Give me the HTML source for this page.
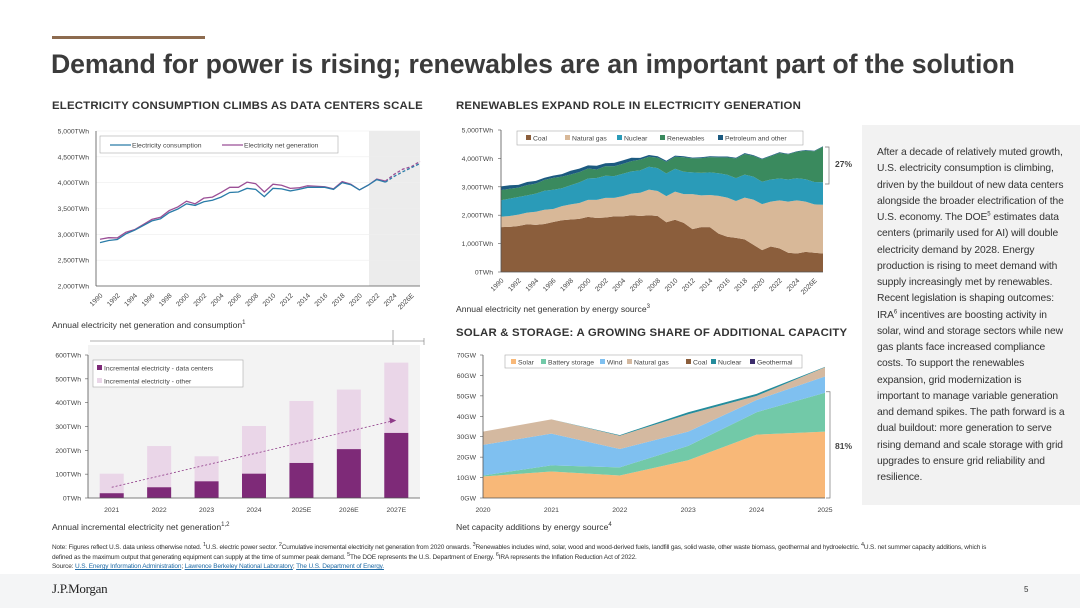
<!DOCTYPE html>
<html><head><meta charset="utf-8">
<style>
body{margin:0;width:1080px;height:608px;overflow:hidden;background:#fff;font-family:"Liberation Sans",sans-serif;color:#333;position:relative}
.abs{position:absolute}
.hdr{font-size:11.4px;font-weight:bold;color:#333;letter-spacing:0.2px;white-space:nowrap}
.cap{font-size:8.6px;color:#333;white-space:nowrap}
sup{line-height:0}
#side{left:862px;top:125px;width:218px;height:380px;background:#f2f2f2}
#side p{margin:0;position:absolute;left:15px;top:20px;width:188px;font-size:10.3px;line-height:16.25px;color:#333;letter-spacing:-0.1px}
svg text{font-family:"Liberation Sans",sans-serif}
</style></head><body>
<div class="abs" style="left:52px;top:36px;width:153px;height:3px;background:#8d6b4f"></div>
<div class="abs" style="left:51px;top:49px;font-size:26.7px;font-weight:bold;color:#3b3b3b;white-space:nowrap;letter-spacing:-0.1px">Demand for power is rising; renewables are an important part of the solution</div>
<div class="abs hdr" style="left:52px;top:100px">ELECTRICITY CONSUMPTION CLIMBS AS DATA CENTERS SCALE</div>
<div class="abs hdr" style="left:456px;top:100px">RENEWABLES EXPAND ROLE IN ELECTRICITY GENERATION</div>
<div class="abs hdr" style="left:456px;top:327px">SOLAR &amp; STORAGE: A GROWING SHARE OF ADDITIONAL CAPACITY</div>
<div class="abs cap" style="left:52px;top:320px">Annual electricity net generation and consumption<sup style="font-size:6px">1</sup></div>
<div class="abs cap" style="left:456px;top:304px">Annual electricity net generation by energy source<sup style="font-size:6px">3</sup></div>
<div class="abs cap" style="left:52px;top:522px">Annual incremental electricity net generation<sup style="font-size:6px">1,2</sup></div>
<div class="abs cap" style="left:456px;top:522px">Net capacity additions by energy source<sup style="font-size:6px">4</sup></div>
<div id="side" class="abs"><p>After a decade of relatively muted growth, U.S. electricity consumption is climbing, driven by the buildout of new data centers alongside the broader electrification of the U.S. economy. The DOE<sup style="font-size:6px">5</sup> estimates data centers (primarily used for AI) will double electricity demand by 2028. Energy production is rising to meet demand with supply increasingly met by renewables. Recent legislation is shaping outcomes: IRA<sup style="font-size:6px">6</sup> incentives are boosting activity in solar, wind and storage sectors while new gas plants face increased compliance costs. To support the renewables expansion, grid modernization is important to manage variable generation and demand spikes. The path forward is a dual buildout: more generation to serve rising demand and scale storage with grid upgrades to ensure grid reliability and resilience.</p></div>
<div class="abs" style="left:52px;top:543px;width:945px;font-size:6.5px;line-height:9.5px;color:#333;letter-spacing:-0.15px">Note: Figures reflect U.S. data unless otherwise noted. <sup>1</sup>U.S. electric power sector. <sup>2</sup>Cumulative incremental electricity net generation from 2020 onwards. <sup>3</sup>Renewables includes wind, solar, wood and wood-derived fuels, landfill gas, solid waste, other waste biomass, geothermal and hydroelectric. <sup>4</sup>U.S. net summer capacity additions, which is defined as the maximum output that generating equipment can supply at the time of summer peak demand. <sup>5</sup>The DOE represents the U.S. Department of Energy. <sup>6</sup>IRA represents the Inflation Reduction Act of 2022.<br>Source: <span style="color:#1f6aa5;text-decoration:underline">U.S. Energy Information Administration</span>; <span style="color:#1f6aa5;text-decoration:underline">Lawrence Berkeley National Laboratory</span>; <span style="color:#1f6aa5;text-decoration:underline">The U.S. Department of Energy.</span></div>
<div class="abs" style="left:0;top:574px;width:1080px;height:34px;background:#f4f5f6"></div>
<div class="abs" style="left:52px;top:581px;font-family:'Liberation Serif',serif;font-size:13px;color:#222;letter-spacing:-0.3px">J.P.Morgan</div>
<div class="abs" style="left:1024px;top:585px;font-size:8px">5</div>

<svg id="sv" class="abs" style="left:0;top:0" width="1080" height="608"></svg>
<script>
// Chart 1
const c1Years=[];for(let y=1990;y<=2027;y++)c1Years.push(y);
const c1Consumption=[2840,2880,2900,3010,3080,3170,3260,3300,3420,3490,3590,3560,3630,3660,3720,3810,3820,3890,3870,3730,3890,3880,3840,3870,3910,3910,3910,3870,4000,3960,3860,3950,4060,4010,4120,4210,4290,4370];
const c1Generation=[2905,2935,2930,3040,3090,3190,3290,3330,3460,3530,3640,3590,3700,3720,3810,3910,3910,4010,3980,3820,3970,3950,3890,3900,3940,3930,3920,3880,4020,3970,3860,3950,4070,4030,4160,4260,4310,4410];
const c1Ticks=[2000,2500,3000,3500,4000,4500,5000];
// Chart 2
const c2Coal=[1580,1590,1620,1680,1660,1690,1760,1820,1850,1870,1940,1900,1920,1960,1960,2000,1970,2000,1970,1750,1840,1730,1510,1580,1580,1350,1240,1200,1150,960,770,900,830,680,650,710,680,650];
const c2Gas=[370,380,400,410,460,500,460,500,530,560,600,640,690,650,710,760,820,900,880,920,990,1010,1230,1120,1130,1330,1380,1300,1470,1590,1620,1580,1690,1800,1870,1770,1700,1720];
const c2Nuclear=[577,613,619,610,640,673,675,628,673,728,754,769,780,764,789,782,787,806,806,799,807,790,769,789,797,797,805,805,807,809,790,778,772,775,782,785,790,790];
const c2Renew=[357,350,330,360,350,380,420,410,380,360,350,300,340,350,350,360,380,350,370,410,420,510,490,520,540,560,610,690,730,730,790,820,900,890,930,1010,1080,1250];
const c2Petro=[130,120,100,110,100,75,80,90,130,120,110,130,100,120,120,120,60,65,50,40,40,35,30,30,30,30,30,30,30,25,20,25,25,20,20,20,20,20];
const c2Ticks=[0,1000,2000,3000,4000,5000];
// Chart 3
const c3Cats=["2021","2022","2023","2024","2025E","2026E","2027E"];
const c3DataCenters=[20,45,70,102,147,205,273];
const c3Total=[102,218,175,302,407,455,568];
const c3Ticks=[0,100,200,300,400,500,600];
// Chart 4
const c4Years=["2020","2021","2022","2023","2024","2025"];
const c4Solar=[10.5,13,11,18.5,31,32.5];
const c4Battery=[0.5,3,4,7,11,19];
const c4Wind=[15,15.5,9,7,6,8];
const c4Gas=[6.5,7,6.5,8.5,2,4.5];
const c4Coal=[0,0,0,0,0,0];
const c4Nuclear=[0,0,0.3,1,1,0.2];
const c4Geo=[0,0,0,0,0,0];
const c4Ticks=[0,10,20,30,40,50,60,70];

const NS="http://www.w3.org/2000/svg";const sv=document.getElementById('sv');
function mk(t,a,p){const e=document.createElementNS(NS,t);for(const k in a)e.setAttribute(k,a[k]);(p||sv).appendChild(e);return e;}
function tx(x,y,s,o){const e=mk('text',Object.assign({x:x,y:y,'font-size':6.8,fill:'#444'},o||{}));e.textContent=s;return e;}
function fmt(v){return v.toString().replace(/\B(?=(\d{3})+(?!\d))/g,',');}

// ---- Chart 1
const x1=i=>100+i*(420-100)/(c1Years.length-1), y1=v=>286-(v-2000)*(286-131)/3000;
let r=mk('rect',{x:369,y:131,width:51,height:155,fill:'#ececec'});

c1Ticks.forEach(t=>{mk('line',{x1:96,x2:420,y1:y1(t),y2:y1(t),stroke:'#eee','stroke-width':0.6});
 const e=tx(89,y1(t)+2.5,fmt(t)+'TWh',{'text-anchor':'end'});});
mk('line',{x1:96,x2:96,y1:131,y2:286,stroke:'#555','stroke-width':0.8});
mk('line',{x1:96,x2:420,y1:286,y2:286,stroke:'#555','stroke-width':0.8});
c1Years.forEach((y,i)=>{if(i%2==0&&i<37){const lab=y==2026?'2026E':''+y;const e=tx(0,0,lab,{transform:`translate(${x1(i)+3},${296}) rotate(-45)`,'text-anchor':'end'});}});
function line1(arr,col,name){const split=33;
 let p1=arr.slice(0,split+1).map((v,i)=>`${i?'L':'M'}${x1(i)},${y1(v)}`).join('');
 let l=mk('path',{d:p1,fill:'none',stroke:col,'stroke-width':1.3});
 let p2=arr.slice(split).map((v,i)=>`${i?'L':'M'}${x1(i+split)},${y1(v)}`).join('');
 let l2=mk('path',{d:p2,fill:'none',stroke:col,'stroke-width':1.3,'stroke-dasharray':'3,2'});}
line1(c1Generation,'#9b4f96','generation-line');
line1(c1Consumption,'#2a7ca8','consumption-line');
let lg=mk('rect',{x:100,y:136,width:238,height:17,fill:'#fff',stroke:'#aaa','stroke-width':0.6});
mk('line',{x1:110,x2:131,y1:145,y2:145,stroke:'#2a7ca8','stroke-width':1.3});tx(132,147.5,'Electricity consumption');
mk('line',{x1:222,x2:243,y1:145,y2:145,stroke:'#9b4f96','stroke-width':1.3});tx(244,147.5,'Electricity net generation');
mk('line',{x1:90,x2:424,y1:341,y2:341,stroke:'#999','stroke-width':0.8});
mk('line',{x1:393,x2:393,y1:330,y2:345,stroke:'#777','stroke-width':0.6});
mk('line',{x1:424,x2:424,y1:338,y2:345,stroke:'#777','stroke-width':0.6});

// ---- Chart 2
const x2=i=>501+i*(823-501)/(c1Years.length-1), y2=v=>272-v*(272-130)/5000;
c2Ticks.forEach(t=>{const e=tx(493,y2(t)+2.5,fmt(t)+'TWh',{'text-anchor':'end'});mk('line',{x1:498,x2:501,y1:y2(t),y2:y2(t),stroke:'#555','stroke-width':0.6});});
const layers2=[[c2Coal,'#8b5e3c','coal-area'],[c2Gas,'#d8b898','gas-area'],[c2Nuclear,'#2a9bb8','nuclear-area'],[c2Renew,'#3a8a5e','renewables-area'],[c2Petro,'#1c5a80','petroleum-area']];
let base=c2Coal.map(()=>0);
layers2.forEach(([arr,col,name])=>{const top=base.map((b,i)=>b+arr[i]);
 let d=top.map((v,i)=>`${i?'L':'M'}${x2(i)},${y2(v)}`).join('')+base.map((v,i)=>i).reverse().map(i=>`L${x2(i)},${y2(base[i])}`).join('')+'Z';
 const e=mk('path',{d:d,fill:col});base=top;});
mk('line',{x1:501,x2:501,y1:130,y2:272,stroke:'#555','stroke-width':0.8});
mk('line',{x1:501,x2:823,y1:272,y2:272,stroke:'#555','stroke-width':0.8});
c1Years.forEach((y,i)=>{if(i%2==0&&i<37){const lab=y==2026?'2026E':''+y;const e=tx(0,0,lab,{transform:`translate(${x2(i)+3},${281}) rotate(-45)`,'text-anchor':'end'});}});
lg=mk('rect',{x:517,y:131,width:286,height:14,fill:'#fff',stroke:'#aaa','stroke-width':0.6});
[['Coal',526],['Natural gas',565],['Nuclear',617],['Renewables',660],['Petroleum and other',718]].forEach((l,k)=>{mk('rect',{x:l[1],y:135,width:5,height:5,fill:layers2[k][1]});tx(l[1]+7,140.5,l[0]);});
mk('path',{d:'M825,147 H829 V184 H825',fill:'none',stroke:'#777','stroke-width':0.7});
tx(835,167,'27%',{'font-size':8.5,'font-weight':'bold',fill:'#444'});

// ---- Chart 3
const y3=v=>498-v*(498-355)/600, bw=(420-88)/c3Cats.length;
let bg=mk('rect',{x:88,y:345,width:332,height:153,fill:'#f3f3f3'});
c3Ticks.forEach(t=>{const e=tx(81,y3(t)+2.5,t+'TWh',{'text-anchor':'end'});mk('line',{x1:85,x2:88,y1:y3(t),y2:y3(t),stroke:'#555','stroke-width':0.6});});
c3Cats.forEach((c,i)=>{const cx=88+bw*(i+0.5);
 let b=mk('rect',{x:cx-12,y:y3(c3Total[i]),width:24,height:y3(0)-y3(c3Total[i]),fill:'#ead6e8'});
 b=mk('rect',{x:cx-12,y:y3(c3DataCenters[i]),width:24,height:y3(0)-y3(c3DataCenters[i]),fill:'#7e2a78'});
 const e=tx(cx,512,c,{'text-anchor':'middle'});});
mk('line',{x1:88,x2:88,y1:355,y2:498,stroke:'#555','stroke-width':0.8});
mk('line',{x1:88,x2:420,y1:498,y2:498,stroke:'#555','stroke-width':0.8});
let ar=mk('line',{x1:88+bw*0.5,y1:y3(45),x2:88+bw*6.5-4,y2:y3(323),stroke:'#8e3a88','stroke-width':0.8,'stroke-dasharray':'2,2'});
mk('path',{d:`M${88+bw*6.5},${y3(325)} l-7,-3 l1,6 z`,fill:'#8e3a88'});
lg=mk('rect',{x:93,y:360,width:150,height:27,fill:'#fff',stroke:'#aaa','stroke-width':0.6});
mk('rect',{x:97,y:365,width:5,height:5,fill:'#7e2a78'});tx(104,370.5,'Incremental electricity - data centers');
mk('rect',{x:97,y:378,width:5,height:5,fill:'#ead6e8'});tx(104,383.5,'Incremental electricity - other');

// ---- Chart 4
const x4=i=>483+i*(825-483)/(c4Years.length-1), y4=v=>498-v*(498-355)/70;
c4Ticks.forEach(t=>{const e=tx(476,y4(t)+2.5,t+'GW',{'text-anchor':'end'});mk('line',{x1:480,x2:483,y1:y4(t),y2:y4(t),stroke:'#555','stroke-width':0.6});});
const layers4=[[c4Solar,'#f8b878','solar-area'],[c4Battery,'#72c9a8','battery-area'],[c4Wind,'#7fc0f0','wind-area'],[c4Gas,'#d4b9a0','gas-capacity-area'],[c4Coal,'#8b5e3c','coal-capacity-area'],[c4Nuclear,'#248c9c','nuclear-capacity-area'],[c4Geo,'#3c2c6c','geothermal-area']];
base=c4Solar.map(()=>0);
layers4.forEach(([arr,col,name])=>{const top=base.map((b,i)=>b+arr[i]);
 let d=top.map((v,i)=>`${i?'L':'M'}${x4(i)},${y4(v)}`).join('')+base.map((v,i)=>i).reverse().map(i=>`L${x4(i)},${y4(base[i])}`).join('')+'Z';
 const e=mk('path',{d:d,fill:col});base=top;});
mk('line',{x1:483,x2:483,y1:355,y2:498,stroke:'#555','stroke-width':0.8});
mk('line',{x1:483,x2:825,y1:498,y2:498,stroke:'#555','stroke-width':0.8});
c4Years.forEach((c,i)=>{const e=tx(x4(i),512,c,{'text-anchor':'middle'});});
lg=mk('rect',{x:505,y:355,width:297,height:13,fill:'#fff',stroke:'#aaa','stroke-width':0.6});
[['Solar',511],['Battery storage',541],['Wind',600],['Natural gas',627],['Coal',686],['Nuclear',711],['Geothermal',750]].forEach((l,k)=>{mk('rect',{x:l[1],y:359,width:5,height:5,fill:layers4[k][1]});tx(l[1]+7,364.5,l[0]);});
mk('path',{d:`M826,${y4(52)} H830 V${y4(0)} H826`,fill:'none',stroke:'#777','stroke-width':0.7});
tx(835,449,'81%',{'font-size':8.5,'font-weight':'bold',fill:'#444'});
</script>
</body></html>
